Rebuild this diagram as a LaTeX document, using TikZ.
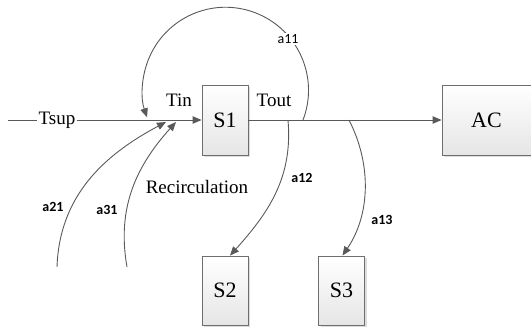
\documentclass[tikz,border=0pt]{standalone}
\usepackage{fontspec}
\setmainfont{Liberation Serif}
\newfontfamily\labfont{Carlito}
\usetikzlibrary{arrows.meta,shadows}
\definecolor{linegray}{HTML}{595959}
\definecolor{boxedge}{HTML}{6E6E6E}
\tikzset{
  block/.style={draw=boxedge, line width=0.9pt, top color=white, bottom color=black!10,
    minimum width=46pt, minimum height=70pt, inner sep=0pt,
    font=\fontsize{22}{24}\selectfont,
    drop shadow={shadow xshift=2pt, shadow yshift=-2pt, opacity=0.3, fill=black!45}},
  flow/.style={draw=linegray, line width=0.9pt},
  arrowed/.style={flow, -{Triangle[length=9pt,width=7.5pt]}},
  sig/.style={font=\fontsize{19}{21}\selectfont, inner sep=1pt},
  coef/.style={font=\labfont\fontsize{14}{16}\selectfont, inner sep=1pt},
  coefb/.style={coef, font=\labfont\bfseries\fontsize{14}{16}\selectfont}
}
\begin{document}
\begin{tikzpicture}[x=1pt,y=1pt]
\useasboundingbox (0,0) rectangle (531,-331);

% blocks
\node[block] (s1) at (225,-120) {S1};
\node[block, minimum width=89pt] (ac) at (486.5,-120) {AC};
\node[block, minimum height=69pt] (s2) at (225,-290.5) {S2};
\node[block, minimum height=69pt] (s3) at (341.5,-290.5) {S3};

% supply line
\coordinate (src) at (8,-120);
\node[sig, fill=white] (tsup) at (57,-120) {Tsup};
\draw[flow] (src) -- (tsup);
\draw[arrowed] (tsup) -- (s1);
\node[sig] (tin) at (179,-100) {Tin};
\node[sig] (tout) at (274,-100) {Tout};

% output line
\draw[arrowed] (s1) -- (ac);
\coordinate (p11) at (303,-120);
\coordinate (p12) at (288,-120);
\coordinate (p13) at (349,-120);

% self recirculation loop
\draw[arrowed] (p11) arc[start angle=-21, end angle=199, radius=83] coordinate (q11);
\node[coef, fill=white] (l11) at (288,-39) {a11};

% branches to S2 and S3
\draw[arrowed] (p12) to[out=-85, in=48] ([xshift=5pt]s2.north);
\node[coefb] (l12) at (302,-178) {a12};
\draw[arrowed] (p13) .. controls (372,-165) and (370,-215) .. ([xshift=1pt]s3.north);
\node[coefb] (l13) at (382,-220) {a13};

% returns from S2 and S3
\coordinate (b21) at (57,-267);
\coordinate (b31) at (127,-267);
\coordinate (q21) at (166,-122);
\coordinate (q31) at (176,-122);
\draw[arrowed] (b21) to[out=88, in=-152] (q21);
\draw[arrowed] (b31) to[out=100, in=-132] (q31);
\node[coefb] (l21) at (53,-207) {a21};
\node[coefb] (l31) at (107,-210) {a31};
\node[sig] (rec) at (197,-187) {Recirculation};
\end{tikzpicture}
\end{document}
